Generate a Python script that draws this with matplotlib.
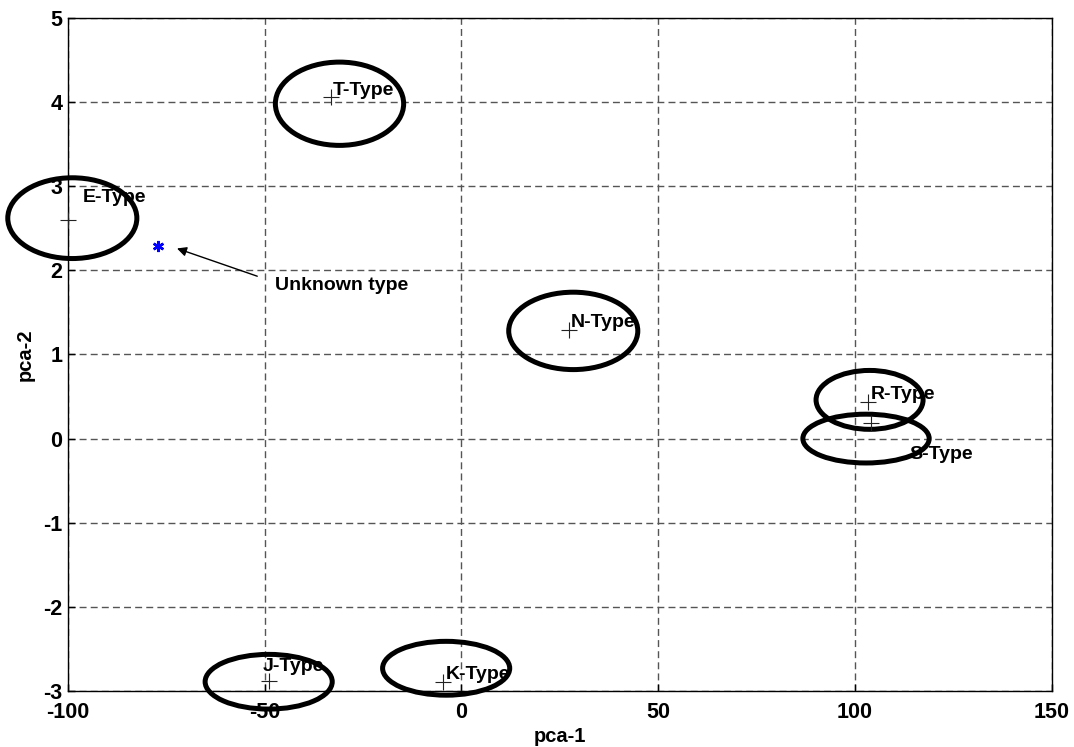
import matplotlib
matplotlib.use("Agg")
import matplotlib.pyplot as plt
from matplotlib.patches import Ellipse

plt.rcParams['font.family'] = ['Liberation Sans', 'DejaVu Sans']
plt.rcParams['font.weight'] = 'bold'
plt.rcParams['axes.unicode_minus'] = False

# class names
types = ['T-Type', 'E-Type', 'N-Type', 'R-Type', 'S-Type', 'J-Type', 'K-Type']
# class mean points (+)
mean_x = [-33.1, -100.0, 27.2, 103.3, 104.1, -48.9, -4.6]
mean_y = [4.06, 2.60, 1.29, 0.44, 0.18, -2.88, -2.89]
# ellipse centres and sizes
ell_x = [-31.0, -98.9, 28.4, 103.7, 102.8, -49.0, -3.9]
ell_y = [3.98, 2.62, 1.28, 0.46, 0.0, -2.89, -2.73]
ell_w = [32.6, 32.8, 32.8, 27.2, 32.1, 32.3, 32.3]
ell_h = [0.99, 0.96, 0.92, 0.70, 0.58, 0.65, 0.64]
# label anchors
lab_x = [-32.8, -96.2, 27.7, 104.1, 113.7, -50.4, -4.1]
lab_y = [4.14, 2.86, 1.38, 0.52, -0.19, -2.71, -2.80]

# unknown sample
unk_x, unk_y = -77.1, 2.29
arrow_head = (-72.3, 2.26)
arrow_tail = (-51.9, 1.93)
unk_text = (-47.3, 1.82)

xticks = [-100, -50, 0, 50, 100, 150]
yticks = [-3, -2, -1, 0, 1, 2, 3, 4, 5]

fig = plt.figure(figsize=(10.74, 7.47), dpi=100)
ax = fig.add_axes([0.0633, 0.075, 0.916, 0.901])

for i in range(len(types)):
    e = Ellipse((ell_x[i], ell_y[i]), ell_w[i], ell_h[i], fill=False,
                edgecolor='black', linewidth=3.6, clip_on=False, zorder=3)
    ax.add_patch(e)
    ax.plot(mean_x[i], mean_y[i], marker='+', color='#222222', markersize=11,
            markeredgewidth=0.8, clip_on=False, zorder=4)
    ax.text(lab_x[i], lab_y[i], types[i], fontsize=14, fontweight='bold',
            ha='left', va='center', zorder=5)

# unknown sample as an asterisk
ax.plot(unk_x, unk_y, marker=(6, 2, 0), color='blue', markersize=8,
        markeredgewidth=1.8, linestyle='none')
ax.annotate('', xy=arrow_head, xytext=arrow_tail,
            arrowprops=dict(arrowstyle='-|>', color='black', lw=1,
                            mutation_scale=14, shrinkA=0, shrinkB=0))
ax.text(unk_text[0], unk_text[1], 'Unknown type', fontsize=14,
        fontweight='bold', ha='left', va='center')

ax.set_xlim(-100, 150)
ax.set_ylim(-3, 5)
ax.set_xticks(xticks)
ax.set_yticks(yticks)
ax.tick_params(direction='in', length=5, labelsize=15.5, width=1)
ax.tick_params(axis='x', pad=8)
ax.tick_params(axis='y', pad=4)
for lab in ax.get_xticklabels() + ax.get_yticklabels():
    lab.set_fontweight('bold')
ax.grid(True, color='#555555', linestyle=(0, (5, 3)), linewidth=1)
ax.set_axisbelow(True)
for s in ax.spines.values():
    s.set_linewidth(1)

ax.set_xlabel('pca-1', fontsize=14.5, fontweight='bold', labelpad=3)
ax.set_ylabel('pca-2', fontsize=14.5, fontweight='bold', labelpad=6)

fig.savefig('out.png', dpi=100)
